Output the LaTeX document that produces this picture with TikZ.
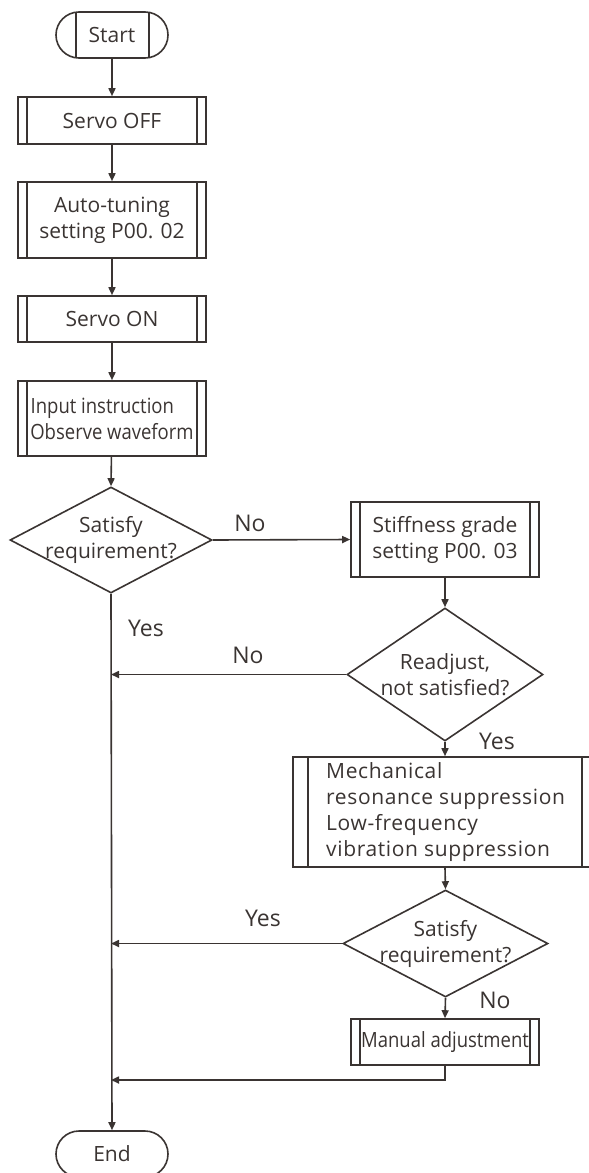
\documentclass[tikz,border=0pt]{standalone}
\usepackage{fontspec}
\setmainfont{Open Sans}
\usetikzlibrary{shapes.geometric,shapes.misc,arrows.meta}
\definecolor{ink}{HTML}{3A3432}
\tikzset{
  base/.style={draw=ink, line width=1.6pt, text=ink, font=\fontsize{21}{26}\selectfont, align=center, inner sep=0pt},
  proc/.style={base, rectangle, minimum width=#1},
  proc/.default=188pt,
  term/.style={base, rounded rectangle, minimum width=112pt, minimum height=46pt},
  dia/.style={draw=ink, line width=1.6pt, diamond, inner sep=0pt},
  dtext/.style={text=ink, font=\fontsize{21}{26}\selectfont, align=center, inner sep=0pt},
  lbl/.style={text=ink, font=\fontsize{23}{26}\selectfont, inner sep=0pt},
  arr/.style={draw=ink, line width=1.6pt, -{Triangle[length=8pt,width=7pt]}},
  ln/.style={draw=ink, line width=1.6pt},
}
\newcommand{\sidebars}[2]{%
  \draw[ln] ([xshift=#2]#1.north west) -- ([xshift=#2]#1.south west);
  \draw[ln] ([xshift=-#2]#1.north east) -- ([xshift=-#2]#1.south east);}
\newcommand{\squeeze}[1]{\scalebox{0.88}[1]{#1}}
\begin{document}
\begin{tikzpicture}[x=1pt,y=-1pt]
\useasboundingbox (0,0) rectangle (589,1173);
% nodes
\node[term] (start) at (112,35) {Start};
\draw[ln] (76,12) -- (76,58);
\draw[ln] (149,12) -- (149,58);
\node[proc, minimum height=47pt] (off) at (112,120.5) {Servo OFF};
\node[proc, minimum height=76pt] (auto) at (112,220) {Auto-tuning\\setting P00. 02};
\node[proc, minimum height=46pt] (on) at (112,319) {Servo ON};
\node[proc, minimum height=75pt] (input) at (112,418.5) {\squeeze{Input instruction\hspace*{22pt}}\\\squeeze{Observe waveform}};
\node[dia, minimum width=202pt, minimum height=106pt] (d1) at (111,540) {};
\node[dtext] (d1t) at (111,540) {Satisfy\\requirement?};
\node[proc, minimum height=75pt] (stiff) at (445,539.5) {Stiffness grade\\setting P00. 03};
\node[dia, minimum width=196pt, minimum height=133pt] (d2) at (445,674.5) {};
\node[dtext] (d2t) at (445,674.5) {Readjust,\\not satisfied?};
\node[proc=304pt, minimum height=110pt] (mech) at (445,812) {};
\node[dtext, align=left, anchor=west, font=\fontsize{21}{26}\selectfont\addfontfeature{LetterSpace=3}] (mecht) at (326,812) {Mechanical\\resonance suppression\\Low-frequency\\vibration suppression};
\node[dia, minimum width=205pt, minimum height=107pt] (d3) at (445.5,943.5) {};
\node[dtext] (d3t) at (445.5,943.5) {Satisfy\\requirement?};
\node[proc, minimum height=46pt] (manual) at (445,1042) {\squeeze{Manual adjustment}};
\node[term] (end) at (112,1154) {End};
\sidebars{off}{10pt}
\sidebars{auto}{10pt}
\sidebars{on}{10pt}
\sidebars{input}{10pt}
\sidebars{stiff}{10pt}
\sidebars{mech}{16pt}
\sidebars{manual}{10pt}
\coordinate (j) at (445,1080);
% connectors
\draw[arr] (start) -- (off);
\draw[arr] (off) -- (auto);
\draw[arr] (auto) -- (on);
\draw[arr] (on) -- (input);
\draw[arr] (input) -- (d1.north);
\draw[arr] (d1.east) -- (stiff.west);
\draw[arr] (stiff) -- (d2.north);
\draw[arr] (d2.west) -- (d2.west -| d1.south);
\draw[arr] (d2.south) -- (mech.north);
\draw[arr] (mech.south) -- (d3.north);
\draw[arr] (d3.west) -- (d3.west -| d1.south);
\draw[arr] (d3.south) -- (manual.north);
\draw[arr] (manual.south) -- (j) -- (j -| d1.south);
\draw[arr] (d1.south) -- (end.north);
% labels
\node[lbl] (l1) at (250,523) {No};
\node[lbl] (l2) at (146,628) {Yes};
\node[lbl] (l3) at (248,655) {No};
\node[lbl] (l4) at (497,741) {Yes};
\node[lbl] (l5) at (263,918) {Yes};
\node[lbl] (l6) at (495,1000) {No};
\end{tikzpicture}
\end{document}
